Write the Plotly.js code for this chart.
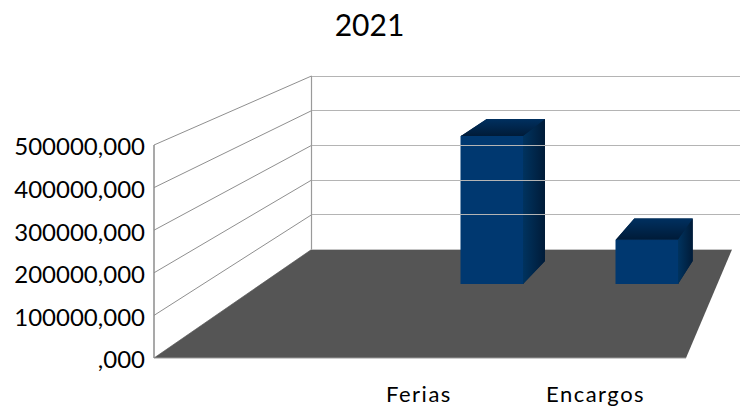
<!DOCTYPE html>
<html><head><meta charset="utf-8">
<script src="https://cdn.plot.ly/plotly-3.0.1.min.js"></script>
<style>html,body{margin:0;padding:0;background:#fff}
.annotation-text{letter-spacing:1.5px}</style></head>
<body><div id="chart" style="width:740px;height:406px"></div>
<script>
const categories = ["Ferias", "Encargos"];
const values = [400000, 120000];
const tickValues = [0, 100000, 200000, 300000, 400000, 500000];
const tickLabels = [",000", "100000,000", "200000,000", "300000,000", "400000,000", "500000,000"];
const chartTitle = "2021";

const W = 740, H = 406;
const fx = 154, fy0 = 358, fy5 = 145;     // front-left wall edge
const bx = 311.5, by0 = 249.5, by5 = 76;  // back-left wall edge
const bxR = 732, fxR = 686;               // floor right corners
const px = x => x / W, py = y => 1 - y / H;
const fontFam = "Lato, Carlito, sans-serif";
const maxV = tickValues[tickValues.length - 1];
const frontY = v => fy0 + (fy5 - fy0) * v / maxV;
const backY = v => by0 + (by5 - by0) * v / maxV;

const line = (x0, y0, x1, y1, color, width) => ({type: "line", xref: "paper", yref: "paper", layer: "below",
  x0: px(x0), y0: py(y0), x1: px(x1), y1: py(y1), line: {color, width}});

const shapes = [];
tickValues.forEach(v => {
  shapes.push(line(fx, frontY(v), bx, backY(v), "#8f8f8f", 1));
});
shapes.push(line(bx, by0, bx, by5, "#9a9a9a", 1.2));
shapes.push(line(fx, fy0, fx, fy5, "#8c8c8c", 1.5));
shapes.push({type: "path", xref: "paper", yref: "paper", layer: "below",
  path: `M${px(fx)},${py(fy0)} L${px(bx)},${py(by0)} L${px(bxR)},${py(by0)} L${px(fxR)},${py(fy0)} Z`,
  fillcolor: "#555555", line: {width: 0}});
shapes.push(line(fx, fy0, fxR, fy0, "#9a9a9a", 1));
shapes.push(line(bx, by0, bxR, by0, "#c4c4c4", 1));

// Bar geometry on the numeric category axis (x2 / y2)
const barBase = 284, spacing = 155, firstCenter = 492, barW = 62;
const pxPerUnit = (barBase - 136) / values[0];
const xr = [-firstCenter / spacing, (W - firstCenter) / spacing];
const yr2 = [0, barBase / pxPerUnit];
const depthLeft = [25.7, 18.3], depthRight = [22, 14.7];
const backLift = 23, backShrink = 0.96;
const dxU = d => d / spacing, dyU = d => d / pxPerUnit;
const w = barW / spacing;

const traces = [
  {type: "scatter", mode: "none", xaxis: "x", yaxis: "y", x: tickValues.map(() => 0), y: tickValues, hoverinfo: "skip", showlegend: false},
  {type: "scatter", mode: "none", xaxis: "x3", yaxis: "y3", x: tickValues.map(() => 0), y: tickValues, hoverinfo: "skip", showlegend: false}
];
traces.push({type: "bar", xaxis: "x2", yaxis: "y2", x: [0, 1], y: values, width: w,
  text: categories, textposition: "none", hoverinfo: "text",
  marker: {color: "#003870", line: {width: 1, color: "#003870"}}, showlegend: false});
values.forEach((v, i) => {
  const l = i - w / 2, r = i + w / 2;
  const rb = r + dxU(depthRight[i]), lb = l + dxU(depthLeft[i]);
  const vb = v * backShrink + dyU(backLift);
  // dark backing under the two faces, so no seam shows between them
  traces.push({type: "scatter", mode: "lines", xaxis: "x2", yaxis: "y2", hoverinfo: "skip", showlegend: false,
    x: [r, r, l, lb, rb, rb, r], y: [0, v, v, vb, vb, dyU(backLift), 0], fill: "toself", line: {width: 0},
    fillcolor: "#002448"});
  traces.push({type: "scatter", mode: "lines", xaxis: "x2", yaxis: "y2", hoverinfo: "skip", showlegend: false,
    x: [r, r, rb, rb, r], y: [0, v, vb, dyU(backLift), 0], fill: "toself", line: {width: 0},
    fillcolor: "#002a55",
    fillgradient: {type: "horizontal", colorscale: [[0, "#00335f"], [1, "#001b38"]]}});
  traces.push({type: "scatter", mode: "lines", xaxis: "x2", yaxis: "y2", hoverinfo: "skip", showlegend: false,
    x: [l, r, rb, lb, l], y: [v, v, vb, vb, v], fill: "toself", line: {width: 0},
    fillcolor: "#002a55",
    fillgradient: {type: "vertical", colorscale: [[0, "#001b38"], [1, "#003060"]]}});
});

const gridTop = 1.2; // back wall axis runs past the top tick, so the top grid line is drawn
const layout = {
  width: W, height: H, margin: {l: 0, r: 0, t: 0, b: 0},
  paper_bgcolor: "#ffffff", plot_bgcolor: "rgba(0,0,0,0)",
  showlegend: false,
  title: {text: chartTitle, font: {family: fontFam, size: 30, color: "#000"}, x: 369.5 / W, xanchor: "center", y: py(25.5), yanchor: "middle"},
  font: {family: fontFam, color: "#000"},
  // front-left value axis
  xaxis: {domain: [px(fx), px(fxR)], range: [0, 1], visible: false, anchor: "y"},
  yaxis: {domain: [py(fy0), py(fy5)], range: [0, maxV], anchor: "x", side: "left", showgrid: false, zeroline: false,
    tickmode: "array", tickvals: tickValues, ticktext: tickLabels, ticks: "", showline: false,
    tickfont: {family: fontFam, size: 24, color: "#000"}, ticklabelstandoff: 8, ticklabelshift: 2},
  // back wall grid
  xaxis3: {domain: [px(bx), 1], range: [0, 1], visible: false, anchor: "y3"},
  yaxis3: {domain: [py(by0), py(by0 + (by5 - by0) * gridTop)], range: [0, maxV * gridTop], anchor: "x3", showgrid: true, gridcolor: "#b4b4b4", gridwidth: 1,
    zeroline: false, showticklabels: false, ticks: "", tickmode: "array", tickvals: tickValues.slice(1)},
  // bars
  xaxis2: {domain: [0, 1], range: xr, visible: false, anchor: "y2"},
  yaxis2: {domain: [py(barBase), 1], range: yr2, visible: false, anchor: "x2"},
  annotations: [
    {text: categories[0], xref: "paper", yref: "paper", x: px(418.5), y: py(393), xanchor: "center", yanchor: "middle", showarrow: false, font: {family: fontFam, size: 22, color: "#000"}},
    {text: categories[1], xref: "paper", yref: "paper", x: px(595.5), y: py(393), xanchor: "center", yanchor: "middle", showarrow: false, font: {family: fontFam, size: 22, color: "#000"}}
  ],
  shapes
};
Plotly.newPlot("chart", traces, layout, {displayModeBar: false, responsive: false});
</script></body></html>
